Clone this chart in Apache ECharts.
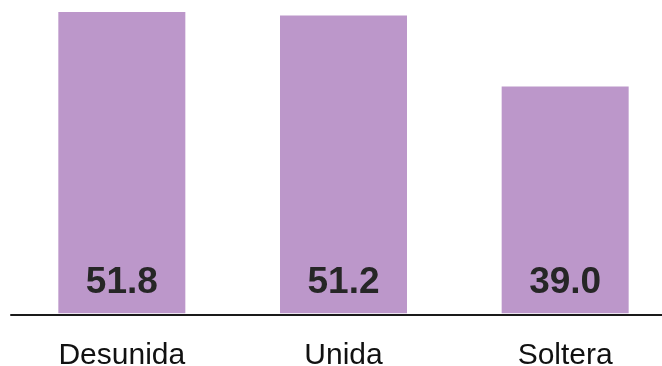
<!DOCTYPE html>
<html>
<head>
<meta charset="utf-8">
<script src="https://cdn.jsdelivr.net/npm/echarts@6/dist/echarts.min.js"></script>
<style>
  html, body { margin: 0; padding: 0; background: #fff; }
  #chart { width: 662px; height: 366px; }
</style>
</head>
<body>
<div id="chart"></div>
<script>
const categories = ["Desunida", "Unida", "Soltera"];
const values = [51.8, 51.2, 39.0];

const chart = echarts.init(document.getElementById("chart"));

const option = {
  animation: false,
  grid: {
    left: 11,
    top: 12,
    bottom: 51,
    width: 665,
    containLabel: false,
    outerBoundsMode: "none"
  },
  xAxis: {
    type: "category",
    data: categories,
    axisTick: { show: false },
    axisLine: {
      onZero: false,
      lineStyle: { color: "#1a1a1a", width: 2 }
    },
    axisLabel: {
      margin: 26,
      fontSize: 30,
      color: "#111",
      fontFamily: "Liberation Sans, Arial, sans-serif"
    }
  },
  yAxis: {
    type: "value",
    min: -0.3,
    max: 51.8,
    show: false,
    splitLine: { show: false }
  },
  series: [
    {
      type: "bar",
      data: values,
      barWidth: 127,
      itemStyle: { color: "#bc97ca" },
      label: {
        show: true,
        position: "insideBottom",
        distance: 12,
        fontSize: 37,
        fontWeight: "bold",
        color: "#262626",
        fontFamily: "Liberation Sans, Arial, sans-serif",
        formatter: function ({ value }) {
          return value.toFixed(1);
        }
      }
    }
  ]
};

chart.setOption(option);
</script>
</body>
</html>
